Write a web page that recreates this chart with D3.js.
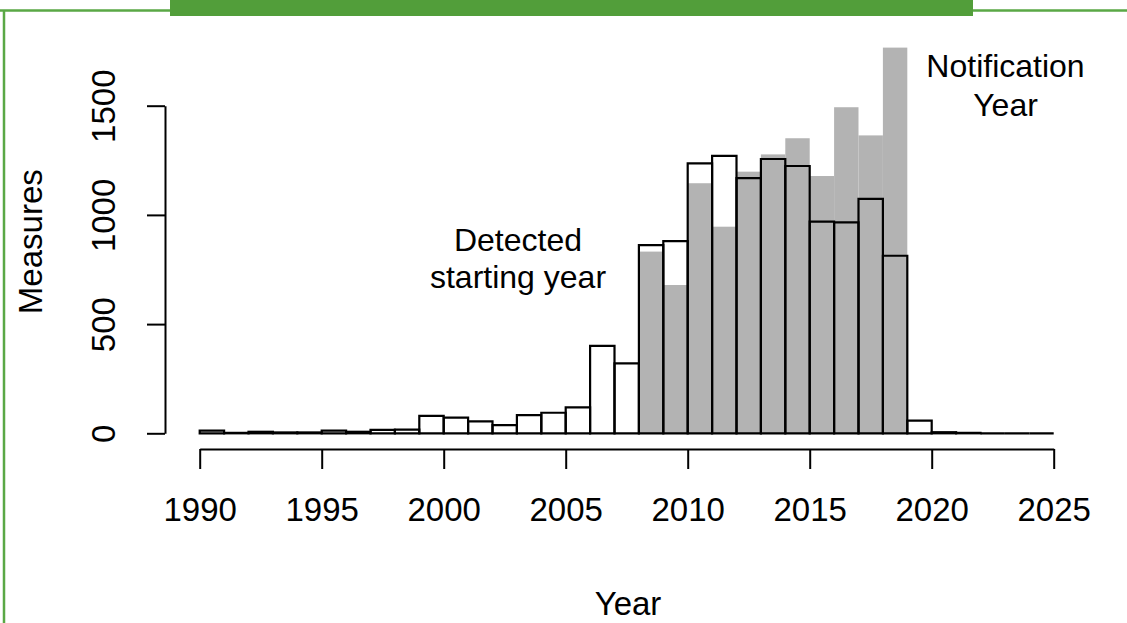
<!DOCTYPE html>
<html>
<head>
<meta charset="utf-8">
<script src="https://cdn.jsdelivr.net/npm/d3@7"></script>
<style>
  body { margin: 0; background: #fff; }
  svg { display: block; }
  text { font-family: "Liberation Sans", Arial, sans-serif; fill: #000; }
</style>
</head>
<body>
<svg id="chart" width="1127" height="623"></svg>
<script>
// Yearly bins: each bar covers [year, year + 1)
const binStarts = d3.range(1990, 2025);

// Measures by detected starting year (outlined bars)
const detectedCounts = [
  12, 2, 7, 4, 4, 12, 7, 16, 17, 80,
  72, 55, 37, 83, 94, 119, 400, 320, 862, 880,
  1236, 1270, 1168, 1256, 1224, 969, 966, 1073, 813, 58,
  5, 2, 0, 0, 0
];

// Measures by notification year (grey bars)
const notificationCounts = [
  0, 0, 0, 0, 0, 0, 0, 0, 0, 0,
  0, 0, 0, 0, 0, 0, 0, 0, 832, 679,
  1145, 946, 1198, 1277, 1351, 1178, 1493, 1364, 1766, 0,
  0, 0, 0, 0, 0
];

const yearTicks = [1990, 1995, 2000, 2005, 2010, 2015, 2020, 2025];
const measureTicks = [0, 500, 1000, 1500];

const svg = d3.select("#chart");

const x = d3.scaleLinear().domain([1990, 2025]).range([199.7, 1053.7]);
const y = d3.scaleLinear().domain([0, 1500]).range([433.3, 105.7]);

// Frame and header band
const green = "#5aa845";
svg.append("path")
  .attr("d", "M0,10.5 H1127 M4,10.5 V623")
  .attr("fill", "none")
  .attr("stroke", green)
  .attr("stroke-width", 2.5);
svg.append("rect")
  .attr("x", 170).attr("y", 0)
  .attr("width", 803).attr("height", 16)
  .attr("fill", "#529e3a");

const bins = binStarts.map((yr, i) => ({
  year: yr,
  detected: detectedCounts[i],
  notified: notificationCounts[i]
}));

// Notification-year histogram, filled grey
svg.append("g").selectAll("rect")
  .data(bins.filter(d => d.notified > 0))
  .join("rect")
  .attr("x", d => x(d.year))
  .attr("width", d => x(d.year + 1) - x(d.year))
  .attr("y", d => y(d.notified))
  .attr("height", d => y(0) - y(d.notified))
  .attr("fill", "#b3b3b3");

// Detected-starting-year histogram, outlines only (empty bins still show a flat edge)
const barOutline = d => {
  const x0 = x(d.year), x1 = x(d.year + 1), y0 = y(0), y1 = y(d.detected);
  return `M${x0},${y0}V${y1}H${x1}V${y0}Z`;
};
svg.append("g").selectAll("path")
  .data(bins)
  .join("path")
  .attr("d", barOutline)
  .attr("fill", "none")
  .attr("stroke", "#000")
  .attr("stroke-width", 2.2);

// X axis
const xAxis = svg.append("g")
  .attr("transform", "translate(0,449)")
  .call(d3.axisBottom(x).tickValues(yearTicks).tickFormat(d3.format("d"))
    .tickSize(20).tickSizeOuter(0));
xAxis.select(".domain").attr("stroke", "#000").attr("stroke-width", 2);
xAxis.selectAll(".tick line").attr("stroke", "#000").attr("stroke-width", 2);
xAxis.selectAll(".tick text")
  .attr("y", 72).attr("dy", null)
  .attr("font-size", 33)
  .attr("font-family", "Liberation Sans, Arial, sans-serif")
  .attr("fill", "#000");

// Y axis with labels parallel to the axis
const yAxis = svg.append("g")
  .attr("transform", "translate(165,0)")
  .call(d3.axisLeft(y).tickValues(measureTicks).tickFormat(d3.format("d"))
    .tickSize(18).tickSizeOuter(0));
yAxis.select(".domain").attr("stroke", "#000").attr("stroke-width", 2);
yAxis.selectAll(".tick line").attr("stroke", "#000").attr("stroke-width", 2);
yAxis.selectAll(".tick text")
  .attr("x", null).attr("dy", null)
  .attr("text-anchor", "middle")
  .attr("transform", "translate(-50,0) rotate(-90)")
  .attr("font-size", 33)
  .attr("font-family", "Liberation Sans, Arial, sans-serif")
  .attr("fill", "#000");

// Axis titles
svg.append("text")
  .attr("transform", "translate(42,241.7) rotate(-90)")
  .attr("text-anchor", "middle")
  .attr("font-size", 33)
  .text("Measures");
svg.append("text")
  .attr("x", 628).attr("y", 615)
  .attr("text-anchor", "middle")
  .attr("font-size", 33)
  .text("Year");

// Series annotations
const notes = [
  { lines: ["Detected", "starting year"], cx: 518, y0: 250.7, step: 37.6 },
  { lines: ["Notification", "Year"], cx: 1005.5, y0: 76.7, step: 39 }
];
notes.forEach(n => {
  svg.append("g").selectAll("text")
    .data(n.lines)
    .join("text")
    .attr("x", n.cx)
    .attr("y", (d, i) => n.y0 + i * n.step)
    .attr("text-anchor", "middle")
    .attr("font-size", 32)
    .text(d => d);
});
</script>
</body>
</html>
